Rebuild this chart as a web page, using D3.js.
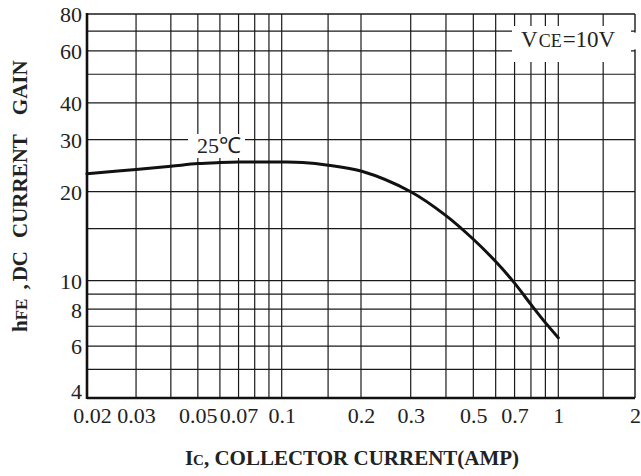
<!DOCTYPE html>
<html>
<head>
<meta charset="utf-8">
<script src="https://cdn.jsdelivr.net/npm/d3@7"></script>
<style>
  body { margin: 0; background: #fff; }
  svg { display: block; }
  text { font-family: "Liberation Serif", "Times New Roman", serif; fill: #222; }
</style>
</head>
<body>
<svg id="chart"></svg>
<script>
// collector current (A) vs dc current gain, 25C, VCE = 10V
const icValues = [0.02, 0.03, 0.04, 0.05, 0.06, 0.07, 0.1, 0.12, 0.15, 0.2, 0.3, 0.4, 0.5, 0.6, 0.7, 0.8, 0.9, 1.0];
const hfeValues = [23.0, 23.8, 24.4, 24.9, 25.1, 25.2, 25.2, 25.1, 24.6, 23.5, 20.0, 16.6, 13.8, 11.6, 9.8, 8.3, 7.2, 6.4];

const xTicks = [0.02, 0.03, 0.05, 0.07, 0.1, 0.2, 0.3, 0.5, 0.7, 1, 2];
const xGrid = [0.03, 0.04, 0.05, 0.06, 0.07, 0.08, 0.09, 0.1, 0.15, 0.2, 0.3, 0.4, 0.5, 0.6, 0.7, 0.8, 0.9, 1, 1.5];
const yTicks = [4, 6, 8, 10, 20, 30, 40, 60, 80];
const yGrid = [5, 6, 7, 8, 9, 10, 15, 20, 30, 40, 50, 60, 70];

const w = 641;
const h = 476;
const pLeft = 87, pRight = 635, pTop = 14, pBottom = 398;

const svg = d3.select("#chart").attr("width", w).attr("height", h);

// the printed log grid is slightly uneven, so the scale is calibrated piecewise
const x = d3.scaleLog()
  .domain([0.02, 0.1, 0.2, 1, 2])
  .range([pLeft, 281.7, 361, 558.3, pRight]);
const y = d3.scaleLog().domain([4, 80]).range([pBottom, pTop]);

// grid
const grid = svg.append("g").attr("stroke", "#1a1a1a").attr("stroke-width", 1.2);
grid.selectAll(".vx")
  .data(xGrid)
  .enter()
  .append("line")
  .attr("x1", (d) => x(d)).attr("x2", (d) => x(d))
  .attr("y1", pTop).attr("y2", pBottom);
grid.selectAll(".hy")
  .data(yGrid)
  .enter()
  .append("line")
  .attr("x1", pLeft).attr("x2", pRight)
  .attr("y1", (d) => y(d)).attr("y2", (d) => y(d));

// frame: thin top/right, heavy left/bottom
svg.append("line").attr("x1", pLeft).attr("x2", pRight).attr("y1", pTop).attr("y2", pTop)
  .attr("stroke", "#1a1a1a").attr("stroke-width", 1.4);
svg.append("line").attr("x1", pRight).attr("x2", pRight).attr("y1", pTop).attr("y2", pBottom)
  .attr("stroke", "#1a1a1a").attr("stroke-width", 1.4);
svg.append("line").attr("x1", pLeft).attr("x2", pLeft).attr("y1", pTop - 1).attr("y2", pBottom + 1)
  .attr("stroke", "#111").attr("stroke-width", 2.6);
svg.append("line").attr("x1", pLeft).attr("x2", pRight).attr("y1", pBottom).attr("y2", pBottom)
  .attr("stroke", "#111").attr("stroke-width", 2.6);

// axes (labels only)
const xAxis = svg.append("g")
  .attr("transform", `translate(0,${pBottom})`)
  .call(d3.axisBottom(x).tickValues(xTicks).tickSize(0).tickPadding(9.5).tickFormat((d) => String(d)));
const yAxis = svg.append("g")
  .attr("transform", `translate(${pLeft},0)`)
  .call(d3.axisLeft(y).tickValues(yTicks).tickSize(0).tickPadding(5).tickFormat((d) => String(d)));
[xAxis, yAxis].forEach((a) => {
  a.select(".domain").remove();
  a.selectAll("text")
    .style("font-family", '"Liberation Serif", serif')
    .style("font-size", "22px")
    .attr("fill", "#222");
});
yAxis.selectAll("text").attr("dy", (d) => (d === 4 ? "0.02em" : "0.36em"));
xAxis.selectAll("text").attr("dx", (d) => (d === 0.02 ? 5 : 0));

// curve
const pts = icValues.map((v, i) => [x(v), y(hfeValues[i])]);
svg.append("path")
  .datum(pts)
  .attr("fill", "none")
  .attr("stroke", "#111")
  .attr("stroke-width", 3)
  .attr("stroke-linecap", "round")
  .attr("d", d3.line().curve(d3.curveCatmullRom.alpha(0.5)));

// 25C label with white background
const tLabel = svg.append("text")
  .attr("x", 197).attr("y", 153)
  .style("font-size", "22px")
  .text("25℃");
let bb = tLabel.node().getBBox();
svg.insert("rect", () => tLabel.node())
  .attr("x", bb.x - 9).attr("y", bb.y + 1)
  .attr("width", bb.width + 13).attr("height", bb.height - 1)
  .attr("fill", "#fff");

// VCE label
const vLabel = svg.append("text").attr("x", 521).attr("y", 47).style("font-size", "23px");
vLabel.append("tspan").text("V");
vLabel.append("tspan").attr("dx", 1).style("font-size", "18px").text("CE");
vLabel.append("tspan").attr("dx", 1).text("=10V");
bb = vLabel.node().getBBox();
svg.insert("rect", () => vLabel.node())
  .attr("x", bb.x - 9).attr("y", pTop + 12)
  .attr("width", pRight - 4 - (bb.x - 9)).attr("height", 36)
  .attr("fill", "#fff");
svg.insert("rect", () => vLabel.node())
  .attr("x", pRight - 4).attr("y", y(70) + 1.5)
  .attr("width", 7).attr("height", y(60) - y(70) - 3)
  .attr("fill", "#fff");

// axis titles
const xt = svg.append("text")
  .attr("x", 352).attr("y", 465)
  .attr("text-anchor", "middle")
  .style("font-size", "21px")
  .style("font-weight", "bold");
xt.append("tspan").text("I");
xt.append("tspan").style("font-size", "15px").text("C");
xt.append("tspan").text(", COLLECTOR CURRENT(AMP)");

const yt = svg.append("text")
  .attr("transform", "translate(27,332) rotate(-90)")
  .style("font-size", "21px")
  .style("font-weight", "bold");
yt.append("tspan").text("h");
yt.append("tspan").style("font-size", "17px").text("FE");
yt.append("tspan").attr("dx", 9).text(",");
yt.append("tspan").attr("dx", 3).text("DC");
yt.append("tspan").attr("dx", 13).text("CURRENT");
yt.append("tspan").attr("dx", 19).text("GAIN");
</script>
</body>
</html>
